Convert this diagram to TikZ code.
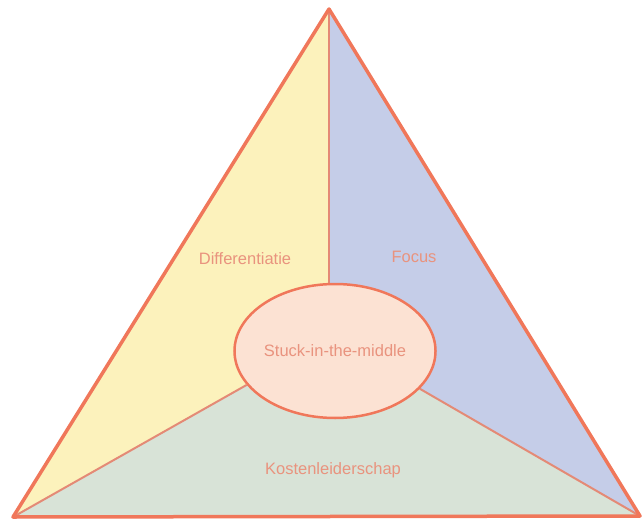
\documentclass[tikz,border=0pt]{standalone}
\usepackage{fontspec}
\setmainfont{Liberation Sans}
\usepackage{xcolor}
\definecolor{rim}{HTML}{F0775A}
\definecolor{seam}{HTML}{E48A76}
\definecolor{labtext}{HTML}{E9937E}
\definecolor{diffyellow}{HTML}{FCF2BC}
\definecolor{focusblue}{HTML}{C5CDE8}
\definecolor{costgreen}{HTML}{D8E3D7}
\definecolor{midpink}{HTML}{FCE2D3}
\usetikzlibrary{shapes.geometric}

\begin{document}
\begin{tikzpicture}[
    x=1pt, y=-1pt,
    divider/.style={draw=seam, line width=2pt},
    rimline/.style={draw=rim, line width=3.5pt, line join=round},
    lab/.style={text=labtext, font=\fontsize{16.5}{20}\selectfont}
]
\useasboundingbox (0,0) rectangle (644,521);

% --- Hoekpunten ---
\coordinate (apex)  at (329,9);
\coordinate (left)  at (13,517);
\coordinate (right) at (640,516);

% --- Vlakken ---
\fill[costgreen]  (apex) -- (right) -- (left) -- cycle;
\fill[diffyellow] (apex) -- (329,300) -- (336,351) -- (242,387) -- (left) -- cycle;
\fill[focusblue]  (apex) -- (329,300) -- (336,351) -- (427,392) -- (right) -- cycle;

% --- Midden ---
\node[ellipse, draw=rim, line width=2.5pt, fill=midpink,
      minimum width=201pt, minimum height=134pt, inner sep=0pt, lab]
      (mid) at (335,351) {Stuck-in-the-middle};

% --- Scheidingslijnen ---
\draw[divider] (apex) -- (apex |- mid.north);
\draw[divider] (mid.201) -- (left);
\draw[divider] (mid.336) -- (right);

% --- Rand ---
\draw[rimline] (apex) -- (right) -- (left) -- cycle;

% --- Labels ---
\node[lab] (diff)  at (245,259) {Differentiatie};
\node[lab] (focus) at (414,257) {Focus};
\node[lab] (cost)  at (333,470) {Kostenleiderschap};

\end{tikzpicture}
\end{document}
